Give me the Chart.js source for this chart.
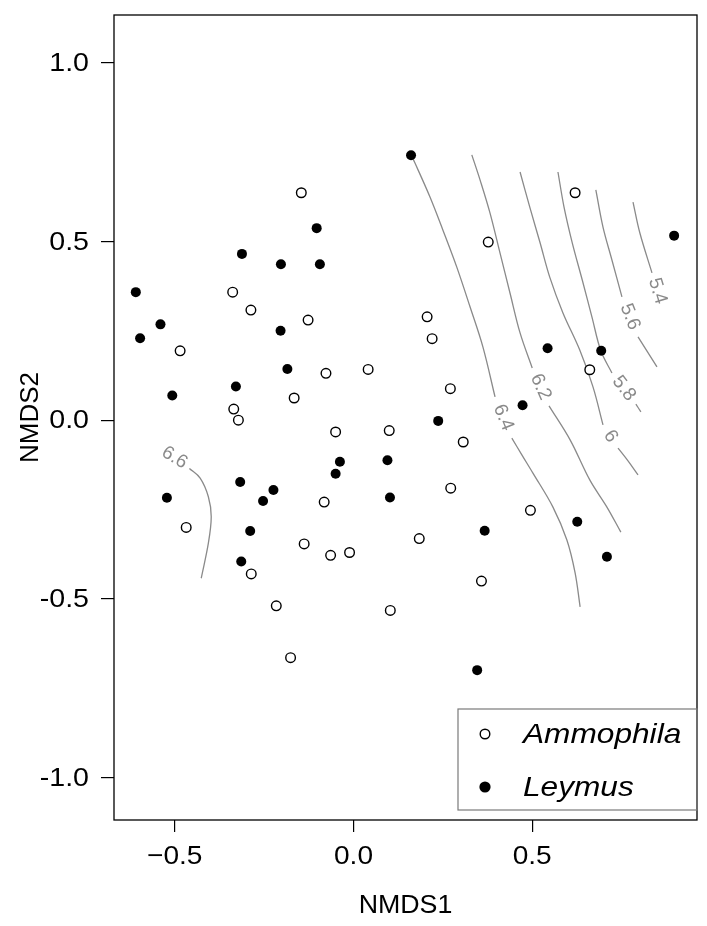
<!DOCTYPE html>
<html lang="en">
<head>
<meta charset="UTF-8">
<title>NMDS ordination</title>
<script src="https://cdn.jsdelivr.net/npm/chart.js"></script>
<style>
  html, body { margin: 0; padding: 0; background: #fff; }
  #wrap { width: 707px; height: 926px; }
</style>
</head>
<body>
<div id="wrap"><canvas id="nmds" width="707" height="926"></canvas></div>
<script>
// site scores
const ammophilaX = [-0.146, -0.338, -0.287, -0.127, -0.485, -0.077, 0.041, -0.166, -0.335, -0.322, -0.050, 0.100,
                    -0.082, -0.468, -0.138, -0.064, -0.011, -0.286, 0.358, -0.216, 0.103, -0.176, 0.620, 0.377,
                    0.206, 0.220, 0.661, 0.271, 0.307, 0.272, 0.495, 0.184];
const ammophilaY = [0.636, 0.358, 0.308, 0.280, 0.194, 0.131, 0.142, 0.062, 0.031, 0.000, -0.033, -0.029,
                    -0.229, -0.300, -0.346, -0.378, -0.370, -0.430, -0.450, -0.519, -0.532, -0.664, 0.636, 0.498,
                    0.289, 0.228, 0.141, 0.088, -0.061, -0.190, -0.252, -0.331];
const leymusX = [-0.103, -0.312, -0.203, -0.094, -0.609, -0.540, -0.597, -0.204, -0.185, -0.329, -0.507, -0.038,
                 0.095, -0.050, -0.317, -0.224, -0.253, -0.522, 0.102, -0.289, -0.314, 0.346, 0.161, 0.897,
                 0.543, 0.693, 0.473, 0.237, 0.626, 0.367, 0.709];
const leymusY = [0.537, 0.465, 0.436, 0.436, 0.358, 0.268, 0.229, 0.250, 0.143, 0.094, 0.069, -0.116,
                 -0.112, -0.150, -0.173, -0.195, -0.226, -0.217, -0.216, -0.310, -0.395, -0.699, 0.741, 0.516,
                 0.201, 0.194, 0.042, -0.002, -0.284, -0.309, -0.382];

const xTicks = [-0.5, 0, 0.5];
const yTicks = [-1, -0.5, 0, 0.5, 1];
const xRange = [-0.670, 0.961];
const yRange = [-1.118, 1.133];

// fitted surface contours; null = where the level label sits
const contour66 = [null, [-0.459, -0.135], [-0.429, -0.162], [-0.406, -0.214], [-0.398, -0.270], [-0.406, -0.344], [-0.426, -0.442]];
const contour64 = [[0.161, 0.742], [0.172, 0.719], [0.214, 0.624], [0.250, 0.532], [0.289, 0.428], [0.326, 0.317],
                   [0.362, 0.205], [0.396, 0.065], null, [0.443, -0.050], [0.471, -0.097], [0.502, -0.148],
                   [0.558, -0.243], [0.597, -0.335], [0.620, -0.427], [0.634, -0.522]];
const contour62 = [[0.331, 0.742], [0.354, 0.672], [0.382, 0.579], [0.410, 0.467], [0.438, 0.355], [0.466, 0.244],
                   [0.500, 0.146], null, [0.547, 0.040], [0.606, -0.055], [0.661, -0.167], [0.709, -0.243], [0.748, -0.313]];
const contour60 = [[0.466, 0.694], [0.494, 0.593], [0.522, 0.496], [0.549, 0.400], [0.586, 0.300], [0.633, 0.196],
                   [0.670, 0.093], [0.698, -0.013], null, [0.740, -0.078], [0.768, -0.114], [0.796, -0.153]];
const contour58 = [[0.572, 0.694], [0.589, 0.596], [0.612, 0.496], [0.640, 0.392], [0.667, 0.289], [0.692, 0.194],
                   [0.723, 0.132], null, [0.790, 0.045], [0.804, 0.023]];
const contour56 = [[0.678, 0.644], [0.698, 0.540], [0.723, 0.448], [0.751, 0.345], null, [0.796, 0.233], [0.849, 0.149]];
const contour54 = [[0.782, 0.610], [0.801, 0.524], [0.835, 0.412], null];

const contourLevels = ['6.6', '6.4', '6.2', '6', '5.8', '5.6', '5.4'];
const contourPaths = [contour66, contour64, contour62, contour60, contour58, contour56, contour54];

const FONT = "'Liberation Sans', Arial, Helvetica, sans-serif";
const GREY = '#8a8a8a';

function toPoints(xs, ys) {
    return xs.map((x, i) => ({ x: x, y: ys[i] }));
}

// break a contour into drawable pieces at the label gap
function pieces(path) {
    const out = [];
    let cur = [];
    path.forEach(p => {
        if (p === null) { if (cur.length) out.push(cur); cur = []; }
        else cur.push({ x: p[0], y: p[1] });
    });
    if (cur.length) out.push(cur);
    return out;
}

const datasets = [
    {
        label: 'Ammophila',
        data: toPoints(ammophilaX, ammophilaY),
        pointStyle: 'circle',
        pointRadius: 4.8,
        pointBorderWidth: 1.4,
        pointBackgroundColor: '#fff',
        pointBorderColor: '#000'
    },
    {
        label: 'Leymus',
        data: toPoints(leymusX, leymusY),
        pointStyle: 'circle',
        pointRadius: 5,
        pointBorderWidth: 0,
        pointBackgroundColor: '#000',
        pointBorderColor: '#000'
    }
];
contourPaths.forEach((path, k) => {
    pieces(path).forEach(seg => {
        datasets.push({
            label: 'contour ' + contourLevels[k],
            data: seg,
            showLine: true,
            pointRadius: 0,
            borderColor: GREY,
            borderWidth: 1.3,
            tension: 0.35,
            fill: false
        });
    });
});

// where each level label goes: in the gap, or just past the open end
function labelSpot(path, sx, sy) {
    const px = p => [sx.getPixelForValue(p[0]), sy.getPixelForValue(p[1])];
    const i = path.indexOf(null);
    let a, b, cx, cy;
    if (i > 0 && i < path.length - 1) {
        a = px(path[i - 1]); b = px(path[i + 1]);
        cx = (a[0] + b[0]) / 2; cy = (a[1] + b[1]) / 2;
    } else if (i === 0) {
        a = px(path[1]); b = px(path[2]);
        const d = Math.hypot(b[0] - a[0], b[1] - a[1]);
        cx = a[0] - (b[0] - a[0]) / d * 20; cy = a[1] - (b[1] - a[1]) / d * 16;
    } else {
        a = px(path[i - 2]); b = px(path[i - 1]);
        const d = Math.hypot(b[0] - a[0], b[1] - a[1]);
        cx = b[0] + (b[0] - a[0]) / d * 19; cy = b[1] + (b[1] - a[1]) / d * 19;
    }
    let ang = Math.atan2(b[1] - a[1], b[0] - a[0]);
    if (i === 0) ang *= 0.75;
    if (ang > Math.PI / 2) ang -= Math.PI;
    if (ang < -Math.PI / 2) ang += Math.PI;
    return { cx, cy, ang };
}

// text in the reference runs a little wide, so stretch it sideways
function wideText(ctx, str, x, y, stretch) {
    ctx.save();
    ctx.translate(x, y);
    ctx.scale(stretch, 1);
    ctx.fillText(str, 0, 0);
    ctx.restore();
}

const decorations = {
    id: 'decorations',
    afterDatasetsDraw(chart) {
        const ctx = chart.ctx;
        const area = chart.chartArea;
        const sx = chart.scales.x, sy = chart.scales.y;
        ctx.save();

        // contour labels
        ctx.fillStyle = GREY;
        ctx.font = '19px ' + FONT;
        ctx.textAlign = 'center';
        ctx.textBaseline = 'middle';
        contourPaths.forEach((path, k) => {
            const s = labelSpot(path, sx, sy);
            ctx.save();
            ctx.translate(s.cx, s.cy);
            ctx.rotate(s.ang);
            ctx.fillText(contourLevels[k], 0, 0);
            ctx.restore();
        });

        // plot box
        ctx.strokeStyle = '#000';
        ctx.lineWidth = 1.3;
        ctx.strokeRect(area.left, area.top, area.right - area.left, area.bottom - area.top);

        // tick labels
        ctx.fillStyle = '#000';
        ctx.font = '26px ' + FONT;
        ctx.textBaseline = 'middle';
        ctx.textAlign = 'center';
        xTicks.forEach(v => {
            const lab = (v < 0 ? '\u2212' : '') + Math.abs(v).toFixed(1);
            wideText(ctx, lab, sx.getPixelForValue(v), 857, 1.08);
        });
        ctx.textAlign = 'right';
        yTicks.forEach(v => {
            wideText(ctx, v.toFixed(1), 89, sy.getPixelForValue(v) + 1, 1.1);
        });

        // legend
        const box = { left: 458, top: 709, right: area.right, bottom: 810 };
        ctx.strokeStyle = '#7a7a7a';
        ctx.lineWidth = 1.2;
        ctx.strokeRect(box.left, box.top, box.right - box.left, box.bottom - box.top);
        const rows = [734, 787];
        chart.data.datasets.slice(0, 2).forEach((ds, i) => {
            ctx.beginPath();
            ctx.arc(485, rows[i], i === 0 ? 4.8 : 5.6, 0, Math.PI * 2);
            if (i === 0) {
                ctx.fillStyle = '#fff'; ctx.fill();
                ctx.strokeStyle = '#000'; ctx.lineWidth = 1.4; ctx.stroke();
            } else {
                ctx.fillStyle = '#000'; ctx.fill();
            }
            ctx.fillStyle = '#000';
            ctx.font = 'italic 28px ' + FONT;
            ctx.textAlign = 'left';
            ctx.textBaseline = 'middle';
            wideText(ctx, ds.label, 523, rows[i] + 1, 1.13);
        });

        // axis titles
        ctx.font = '26px ' + FONT;
        ctx.fillStyle = '#000';
        ctx.textAlign = 'center';
        ctx.textBaseline = 'middle';
        wideText(ctx, 'NMDS1', (area.left + area.right) / 2, 906, 1.03);
        ctx.save();
        ctx.translate(31, (area.top + area.bottom) / 2);
        ctx.rotate(-Math.PI / 2);
        ctx.fillText('NMDS2', 0, 0);
        ctx.restore();

        ctx.restore();
    }
};

new Chart(document.getElementById('nmds'), {
    type: 'scatter',
    data: { datasets: datasets },
    options: {
        responsive: false,
        animation: false,
        layout: { padding: { top: 15, right: 10, left: 0, bottom: 0 } },
        plugins: {
            legend: { display: false },
            tooltip: { enabled: false }
        },
        scales: {
            x: {
                type: 'linear',
                min: xRange[0],
                max: xRange[1],
                afterBuildTicks: s => { s.ticks = xTicks.map(v => ({ value: v })); },
                afterFit: s => { s.height = 106; s.paddingLeft = 0; s.paddingRight = 0; },
                grid: { drawOnChartArea: false, drawTicks: true, tickLength: 12, color: '#000', lineWidth: 1.2 },
                border: { display: false },
                ticks: { display: false }
            },
            y: {
                type: 'linear',
                min: yRange[0],
                max: yRange[1],
                afterBuildTicks: s => { s.ticks = yTicks.map(v => ({ value: v })); },
                afterFit: s => { s.width = 114; s.paddingTop = 0; s.paddingBottom = 0; },
                grid: { drawOnChartArea: false, drawTicks: true, tickLength: 13, color: '#000', lineWidth: 1.2 },
                border: { display: false },
                ticks: { display: false }
            }
        }
    },
    plugins: [decorations]
});
</script>
</body>
</html>
